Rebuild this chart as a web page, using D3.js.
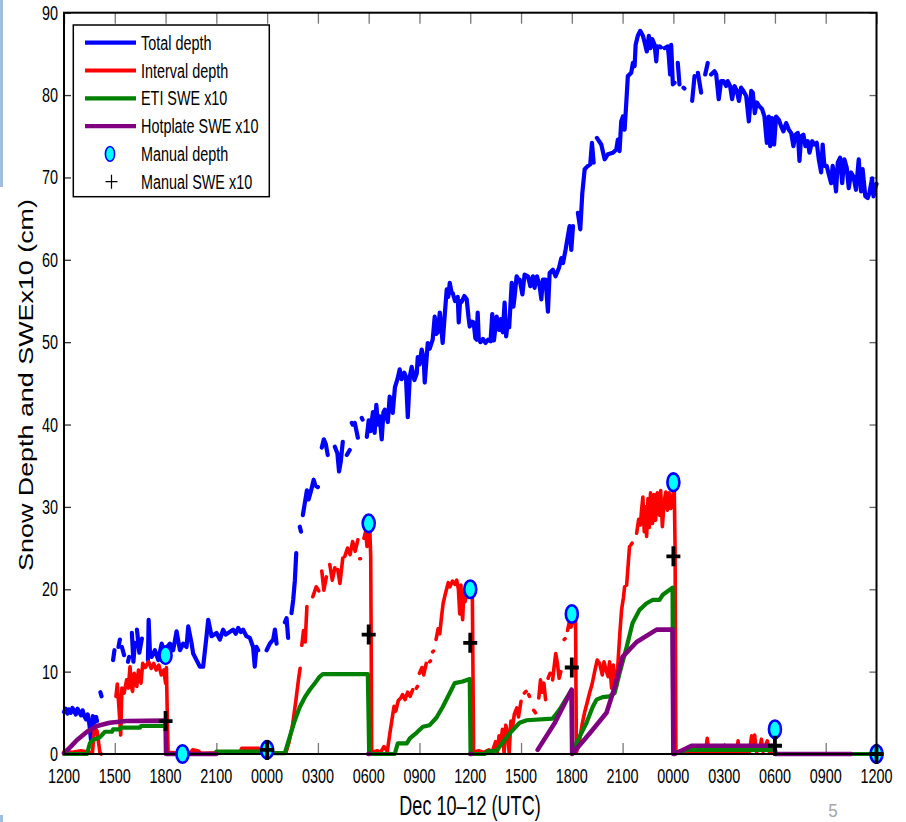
<!DOCTYPE html>
<html>
<head>
<meta charset="utf-8">
<script src="https://cdn.jsdelivr.net/npm/d3@7"></script>
<style>
  html, body { margin: 0; padding: 0; background: #fff; }
  svg { display: block; }
</style>
</head>
<body>
<svg id="chart" width="906" height="822"></svg>
<script>
// Hours since 1200 UTC Dec 10; values in cm (SWE series are x10). null = gap in record.
const hourTicks = [0, 3, 6, 9, 12, 15, 18, 21, 24, 27, 30, 33, 36, 39, 42, 45, 48];
const hourLabels = ["1200","1500","1800","2100","0000","0300","0600","0900","1200",
                    "1500","1800","2100","0000","0300","0600","0900","1200"];
const depthTicks = [0, 10, 20, 30, 40, 50, 60, 70, 80, 90];

const totalDepth = [
  [0,5.1],[0.1,5.5],[0.2,4.9],[0.3,5.4],[0.4,5.0],[0.5,5.6],[0.6,5.2],[0.7,4.8],[0.8,5.5],[0.9,5.1],
  [1.0,4.7],[1.1,5.3],[1.2,4.6],[1.3,4.2],[1.4,4.8],[1.5,3.6],[1.6,1.6],[1.65,2.0],[1.7,4.6],[1.8,3.8],
  [1.9,4.5],[1.95,4.0],
  null,[2.15,7.5],[2.22,7.0],
  null,[2.9,11.4],[2.98,12.6],
  null,[3.22,13.0],[3.3,13.9],
  null,[3.42,13.0],[3.55,12.0],
  null,[3.78,11.2],[3.85,11.8],
  null,[4.01,14.7],[4.1,11.2],[4.19,13.5],
  null,[4.31,15.1],[4.45,12.3],[4.6,14.0],
  null,[4.96,11.4],[5.0,16.3],[5.08,12.2],[5.18,11.8],[5.37,12.6],[5.57,11.4],[5.77,13.4],[5.96,12.2],
  [6.1,13.0],[6.26,13.4],[6.45,12.6],[6.65,14.9],[6.85,12.6],[7.04,13.4],[7.24,13.0],[7.34,15.5],
  [7.54,13.4],[7.63,12.2],[7.83,11.4],[8.03,10.6],[8.22,10.6],[8.42,14.3],[8.52,16.3],[8.72,14.3],
  [9.01,14.7],[9.21,13.9],[9.4,15.1],[9.55,14.5],[9.7,14.7],[9.85,14.9],[9.99,15.1],[10.15,14.6],
  [10.29,15.3],[10.45,14.8],[10.58,15.1],[10.78,14.3],[10.98,14.1],[11.17,13.0],[11.27,10.6],
  [11.37,13.0],[11.47,12.6],
  null,[11.97,12.6],[12.16,13.4],[12.36,13.9],[12.46,15.1],[12.56,13.4],
  null,[13.05,16.0],[13.15,16.5],[13.24,14.1],
  null,[13.44,17.1],[13.54,18.7],[13.64,21.1],[13.72,24.4],
  null,[13.93,27.6],[14.0,27.0],
  null,[14.11,29.0],[14.23,30.5],[14.35,32.0],[14.45,30.9],[14.6,32.0],[14.75,33.3],[14.85,32.6],[15.0,32.4],
  null,[15.23,37.2],[15.35,38.2],[15.47,37.6],[15.58,36.3],
  null,[16.0,37.3],[16.15,36.5],[16.25,34.3],[16.35,35.5],[16.47,37.9],
  null,[16.71,36.3],[16.88,36.9],
  null,[17.0,40.2],[17.05,40.0],
  null,[17.18,40.2],[17.36,38.4],
  null,[17.59,40.8],[17.64,40.6],
  null,[17.89,38.5],[18.0,40.5],[18.1,39.2],[18.25,41.5],[18.35,39.0],[18.45,42.4],[18.55,40.0],
  [18.65,41.0],[18.77,38.2],[18.87,41.5],[18.95,41.8],[19.13,40.3],[19.24,43.4],[19.36,42.2],
  [19.42,41.4],[19.55,44.5],[19.7,45.5],[19.83,46.7],[19.95,45.5],[20.1,46.3],[20.2,45.8],[20.31,40.9],
  [20.43,45.8],[20.54,47.0],[20.7,45.4],[20.84,46.2],[20.9,48.2],[21.0,47.3],[21.13,49.1],[21.25,48.0],
  [21.31,45.1],[21.49,49.9],[21.6,49.2],[21.78,50.3],[21.9,53.1],[22.0,51.0],[22.08,51.2],[22.2,53.6],
  [22.3,51.5],[22.37,49.9],[22.5,53.5],[22.61,56.4],[22.7,55.5],[22.79,57.2],[22.9,56.0],[22.96,56.0],
  [23.1,55.0],[23.26,55.5],[23.32,52.4],[23.4,55.0],[23.49,54.9],[23.65,55.6],[23.79,55.2],[23.9,53.0],
  [23.97,51.9],[24.1,52.5],[24.2,52.4],[24.3,50.5],[24.38,50.3],[24.44,53.6],[24.5,50.5],[24.6,50.0],
  [24.75,50.4],[24.9,49.9],[25.05,50.3],[25.2,50.1],[25.3,53.4],[25.4,50.2],[25.56,53.1],[25.7,51.5],
  [25.8,52.8],[25.92,51.2],[26.03,54.8],[26.12,50.7],[26.21,52.3],[26.3,51.8],[26.45,57.2],[26.55,54.3],
  [26.62,55.5],[26.74,58.0],[26.85,57.6],[26.92,57.6],[27.08,55.8],[27.21,58.2],[27.41,58.0],[27.55,56.8],
  [27.7,58.0],[27.8,56.6],[27.94,58.0],[28.1,56.8],[28.2,55.2],[28.29,57.6],[28.45,57.6],[28.59,53.7],
  [28.69,58.4],[28.88,58.8],[29.04,58.0],[29.24,59.0],[29.38,60.2],[29.48,59.6],[29.63,61.2],[29.77,62.9],
  [29.87,64.1],[29.97,61.2],[30.07,64.1],
  null,[30.36,65.7],[30.5,63.7],[30.62,68.1],[30.76,71.0],[30.95,71.4],[31.09,71.6],[31.19,74.2],[31.29,71.8],
  null,[31.48,74.8],[31.74,74.0],[31.94,72.2],[32.13,72.8],[32.43,73.0],[32.63,73.4],[32.72,74.6],[32.82,73.2],
  [32.92,76.8],[33.02,77.4],[33.12,75.8],[33.22,79.1],[33.31,82.3],[33.51,82.7],[33.61,83.9],[33.71,83.5],
  [33.77,86.1],[33.9,87.2],[34.04,87.8],[34.2,87.2],[34.3,86.4],[34.43,85.3],[34.55,87.2],[34.65,85.7],
  [34.75,86.8],[34.89,86.1],[34.99,84.1],[35.05,85.9],
  null,[35.2,85.9],[35.26,85.8],
  null,[35.48,85.7],[35.67,85.9],[35.73,84.7],[35.81,82.5],[35.87,86.1],[35.97,81.3],[36.07,81.5],
  null,[36.26,83.9],[36.36,81.3],
  null,[36.6,80.9],[36.65,80.8],
  null,[37.11,79.3],[37.25,82.3],
  null,[37.45,82.7],[37.64,80.3],
  null,[37.88,82.5],[38.03,83.9],
  null,[38.23,82.5],[38.43,82.9],[38.53,82.5],[38.68,79.5],[38.82,81.7],[38.96,81.7],[39.12,81.1],[39.21,81.7],
  [39.35,81.1],[39.47,79.5],[39.61,81.1],[39.75,80.5],[39.87,79.3],[40.0,80.9],[40.14,80.5],[40.3,79.9],
  [40.46,76.8],[40.6,80.5],[40.69,80.3],[40.81,77.8],[40.93,79.1],[41.09,78.6],[41.24,78.3],[41.38,77.4],
  [41.52,74.2],[41.64,77.4],[41.72,73.8],[41.83,77.2],[41.95,74.0],[42.07,77.4],[42.23,77.0],[42.37,76.2],
  [42.5,75.6],[42.66,76.6],[42.82,75.8],[42.96,75.4],[43.09,73.8],[43.21,75.2],[43.35,75.4],[43.45,72.0],
  [43.55,75.0],[43.68,75.2],[43.8,73.8],[43.94,74.4],[44.04,73.0],[44.2,74.4],[44.33,74.0],[44.47,74.2],
  [44.59,72.2],[44.73,70.6],[44.82,74.0],[44.92,71.4],[45.06,71.4],[45.18,70.4],[45.32,69.3],[45.41,71.4],
  [45.51,70.1],[45.61,68.3],[45.71,71.8],[45.85,72.4],[45.97,69.3],[46.1,72.2],[46.24,71.2],[46.36,68.7],
  [46.5,70.6],[46.64,70.1],[46.79,68.5],[46.95,72.2],[47.09,68.3],[47.18,71.0],[47.34,67.7],[47.48,67.5],
  [47.58,68.1],[47.74,69.9],[47.82,67.7],[47.94,68.9],[48.0,69.2]
];

const intervalDepth = [
  [0,0.3],[0.5,0.2],[1.0,0.4],[1.5,0.2],[1.68,0.1],[1.8,3.2],[1.95,2.8],[2.12,0.2],[2.2,0.0],
  null,[3.07,7.0],[3.15,8.5],[3.25,5.5],[3.35,2.3],[3.42,8.0],[3.55,7.4],[3.7,9.0],[3.8,8.0],[3.9,10.6],
  [4.0,8.0],[4.05,7.6],[4.15,9.8],[4.3,8.2],[4.4,10.2],[4.55,8.6],[4.65,11.0],[4.8,10.5],[5.0,11.2],
  [5.15,10.4],[5.3,11.0],[5.45,10.2],[5.6,10.8],[5.75,9.6],[5.9,10.2],[6.0,8.6],[6.05,10.5],[6.1,5.0],
  [6.15,0.2],[7.0,0.1],[7.5,0.2],[7.6,0.5],[7.9,0.4],[8.1,0.1],[10.4,0.2],[10.5,0.7],[11.5,0.7],
  [11.6,0.2],[13.1,0.1],[13.3,1.5],[13.5,3.5],[13.7,6.5],[13.85,9.0],[13.95,10.4],
  null,[14.05,13.2],[14.15,15.0],[14.25,13.6],[14.35,17.9],
  null,[14.7,19.1],[14.9,20.3],[15.05,19.8],
  null,[15.23,22.2],[15.35,19.9],[15.5,21.5],
  null,[15.7,23.0],[15.85,21.1],[16.0,22.6],
  null,[16.17,22.4],[16.3,20.7],[16.47,23.8],
  null,[16.59,24.0],[16.75,25.0],[16.9,24.2],[17.05,25.8],[17.2,24.6],[17.36,26.0],
  null,[17.47,23.7],[17.52,23.7],
  null,[17.72,26.2],[17.82,27.0],[17.9,25.2],[18.0,26.6],[18.06,27.5],[18.12,24.0],[18.18,0.2],
  [18.5,0.4],[18.7,0.2],[18.9,0.9],[19.1,0.3],[19.25,2.5],[19.4,4.5],[19.5,5.8],[19.6,5.2],[19.75,6.5],
  [19.9,6.8],[20.0,7.2],[20.15,6.6],[20.3,7.5],[20.45,7.0],[20.6,7.8],
  null,[20.82,8.0],[20.88,8.2],
  null,[21.0,9.8],[21.15,10.5],[21.25,9.6],[21.4,11.0],
  null,[21.6,11.2],[21.65,11.3],
  null,[21.78,12.4],[21.83,12.5],
  null,[21.98,13.9],[22.1,15.2],[22.2,14.6],[22.3,16.6],[22.4,18.3],[22.5,19.2],[22.6,20.0],[22.7,20.8],
  [22.8,20.3],[22.95,21.0],[23.1,20.6],[23.2,21.1],[23.3,20.0],[23.38,17.0],[23.45,20.5],[23.55,16.3],
  [23.62,19.5],[23.7,18.5],[23.8,20.3],[23.95,20.0],[24.05,19.6],[24.12,20.2],[24.2,0.2],
  [24.5,0.4],[24.8,0.2],[25.1,0.5],[25.3,0.3],[25.5,1.5],[25.6,0.2],[25.7,2.2],[25.8,1.2],[25.9,3.0],
  [26.0,0.1],[26.1,3.5],[26.2,2.6],[26.3,0.1],[26.4,4.0],[26.5,3.2],[26.6,4.8],[26.75,5.6],[26.85,4.5],[27.0,6.4],
  null,[27.2,7.4],[27.3,7.6],
  null,[27.45,7.2],[27.5,7.0],
  null,[27.75,5.3],[27.85,5.0],
  null,[28.05,6.8],[28.15,9.0],[28.25,7.5],[28.35,8.6],[28.45,6.6],
  null,[28.6,9.2],[28.72,9.8],
  null,[28.87,9.0],[28.95,10.5],[29.05,12.2],[29.15,11.0],[29.25,9.2],[29.35,10.0],
  null,[29.55,13.9],[29.6,14.0],
  null,[29.75,15.0],[29.85,16.0],[29.95,15.4],[30.1,16.5],[30.22,16.6],[30.27,0.2],
  [30.45,1.5],[30.6,3.5],[30.75,5.0],[30.9,6.2],[31.05,7.4],[31.2,8.5],[31.35,10.0],[31.5,11.4],
  [31.64,11.0],[31.8,9.6],[31.9,11.2],[32.05,10.0],[32.15,9.4],[32.23,11.2],[32.35,8.0],[32.45,10.8],
  [32.55,9.0],[32.64,8.2],[32.75,11.8],[32.85,15.0],[32.94,17.5],[33.05,19.0],[33.12,20.3],
  null,[33.24,20.5],[33.41,25.2],
  null,[33.5,25.4],[33.56,25.6],
  null,[33.83,26.8],[33.95,28.5],[34.05,27.8],[34.12,29.6],[34.2,31.2],[34.28,27.0],[34.35,30.0],
  [34.42,26.4],[34.5,31.0],[34.58,27.5],[34.65,31.7],[34.77,28.0],[34.85,31.5],[34.95,28.4],[35.05,31.7],
  [35.18,29.0],[35.25,32.0],[35.35,27.6],[35.45,30.5],[35.55,31.8],[35.65,29.6],[35.75,31.7],[35.85,29.8],
  [35.95,31.0],[36.05,32.5],[36.1,25.0],[36.15,0.2],
  [37.0,0.1],[37.9,0.2],[38.0,1.9],[38.1,0.2],[39.0,0.3],[39.75,0.2],[39.82,1.6],[39.9,0.2],[40.5,0.3],
  [40.62,2.2],[40.72,0.8],[40.8,2.3],[40.9,0.3],[41.1,0.5],[41.2,1.8],[41.3,0.3],[41.55,1.6],[41.65,0.3],
  [42.0,0.2]
];

const etiSwe = [
  [0,0],[1.36,0],[1.53,1.3],[1.71,1.7],[2.1,2.0],[2.24,2.3],[2.42,2.7],[2.83,2.7],[2.9,3.0],[3.3,3.0],
  [3.35,3.2],[4.49,3.2],[4.55,3.4],[6.0,3.4],
  null,[9.0,0.3],[12.0,0.3],[12.3,0.1],[13.05,0.1],[13.34,2.1],[13.64,4.1],[13.93,5.7],[14.23,6.9],
  [14.52,7.8],[14.82,8.6],[15.11,9.4],[15.29,9.7],[17.95,9.7],[18.03,0],[19.54,0],[19.72,1.3],[20.25,1.3],
  [20.43,1.9],[20.84,2.6],[21.2,3.3],[21.6,3.5],[22.0,4.4],[22.37,5.7],[22.79,7.4],[23.08,8.6],
  [23.55,8.8],[23.97,9.1],[24.02,0],[24.85,0],[25.0,0.3],[25.56,0.4],[25.74,0.9],[26.33,2.5],
  [26.92,3.8],[27.33,4.1],[28.87,4.3],[29.28,5.4],[29.69,6.8],[29.99,7.8],[30.02,0.2],[30.46,2.1],
  [30.87,3.8],[31.23,5.7],[31.46,6.6],[31.82,6.9],[32.23,7.0],[32.53,7.4],[32.82,9.8],[33.24,13.0],
  [33.59,15.9],[34.0,17.5],[34.42,18.3],[34.77,18.7],[35.18,18.7],[35.36,19.3],[35.95,20.2],[36.0,0.1],
  [36.8,0.5],[42.0,0.5],
  null,[46.5,0],[48,0]
];

const hotplateSwe = [
  [0,0.1],[0.4,0.9],[0.77,1.7],[1.36,2.7],[1.95,3.4],[2.7,3.8],[3.7,4.0],[6.0,4.05],[6.03,0],[9.0,0],
  null,[17.98,0],[18.06,0],
  null,[24.0,0],[24.08,0],
  null,[27.98,0.5],[29.0,3.8],[29.99,7.8],[30.02,0],[31.05,2.5],[32.05,5.0],[32.53,8.1],[33.0,11.8],
  [33.83,13.6],[35.01,15.1],[35.95,15.1],[36.0,0],[36.07,0],[37.07,1.0],[41.97,1.0],[42.03,0],[46.5,0]
];

const manualDepth = [[6,12],[7,0],[12,0.5],[18,28],[24,20],[30,17],[36,33],[42,3],[48,0]];
const manualSwe = [[6,4],[12,0.5],[18,14.5],[24,13.5],[30,10.5],[36,24],[42,1],[48,0]];

const seriesNames = ["Total depth","Interval depth","ETI SWE x10","Hotplate SWE x10","Manual depth","Manual SWE x10"];

// ---------------------------------------------------------------------------
const svg = d3.select("#chart");
const FONT = "'Liberation Sans', Arial, Helvetica, sans-serif";

const x = d3.scaleLinear().domain([0, 48]).range([64, 876.5]);
const y = d3.scaleLinear().domain([0, 90]).range([754, 12.7]);

svg.append("rect").attr("width", 906).attr("height", 822).attr("fill", "#fff");

// slide edge decoration
svg.append("rect").attr("x", 0).attr("y", 0).attr("width", 3).attr("height", 187).attr("fill", "#a3bde0");
svg.append("rect").attr("x", 0).attr("y", 815).attr("width", 3).attr("height", 7).attr("fill", "#a3bde0");

// tick marks on all four sides, pointing inward
function styleAxis(g, color) {
  g.select(".domain").remove();
  g.selectAll(".tick line").attr("stroke", color).attr("stroke-width", 1.3);
  g.selectAll(".tick text").remove();
}
svg.append("g").attr("transform", `translate(0,${y(0)})`)
  .call(d3.axisBottom(x).tickValues(hourTicks).tickSize(-11).tickFormat(""))
  .call(g => styleAxis(g, "#777"));
svg.append("g").attr("transform", `translate(0,${y(90)})`)
  .call(d3.axisTop(x).tickValues(hourTicks).tickSize(-11).tickFormat(""))
  .call(g => styleAxis(g, "#777"));
svg.append("g").attr("transform", `translate(${x(0)},0)`)
  .call(d3.axisLeft(y).tickValues(depthTicks).tickSize(-7).tickFormat(""))
  .call(g => styleAxis(g, "#333"));
svg.append("g").attr("transform", `translate(${x(48)},0)`)
  .call(d3.axisRight(y).tickValues(depthTicks).tickSize(-7).tickFormat(""))
  .call(g => styleAxis(g, "#666"));

// series lines
const line = d3.line()
  .defined(d => d !== null)
  .x(d => x(d[0]))
  .y(d => y(d[1]));

const lineSpecs = [
  { data: totalDepth,    color: "#0000ff", width: 4.2 },
  { data: intervalDepth, color: "#ff0000", width: 3.6 },
  { data: etiSwe,        color: "#008000", width: 4.2 },
  { data: hotplateSwe,   color: "#800080", width: 4.6 }
];
lineSpecs.forEach(s => {
  svg.append("path")
    .datum(s.data)
    .attr("d", line)
    .attr("fill", "none")
    .attr("stroke", s.color)
    .attr("stroke-width", s.width)
    .attr("stroke-linejoin", "round")
    .attr("stroke-linecap", "round");
});

// frame
svg.append("rect")
  .attr("x", x(0)).attr("y", y(90))
  .attr("width", x(48) - x(0)).attr("height", y(0) - y(90))
  .attr("fill", "none").attr("stroke", "#000").attr("stroke-width", 2);

// manual depth observations
svg.append("g").selectAll("ellipse").data(manualDepth).join("ellipse")
  .attr("cx", d => x(d[0])).attr("cy", d => y(d[1]))
  .attr("rx", 6).attr("ry", 8.8)
  .attr("fill", "#00ffff").attr("stroke", "#0000ff").attr("stroke-width", 2.6);

// manual SWE observations
svg.append("g").selectAll("path").data(manualSwe).join("path")
  .attr("d", d => {
    const cx = x(d[0]), cy = y(d[1]);
    return `M${cx - 7},${cy}H${cx + 7}M${cx},${cy - 10}V${cy + 10}`;
  })
  .attr("fill", "none").attr("stroke", "#000").attr("stroke-width", 3.8);

// axis tick labels
const condensed = "scale(0.8,1.12)";
svg.append("g").selectAll("text").data(hourTicks).join("text")
  .attr("transform", (d) => `translate(${x(d)},783) ${condensed}`)
  .attr("text-anchor", "middle")
  .attr("font-family", FONT).attr("font-size", 18).attr("fill", "#000")
  .text((d, i) => hourLabels[i]);

svg.append("g").selectAll("text").data(depthTicks).join("text")
  .attr("transform", d => `translate(58,${y(d) + 7}) ${condensed}`)
  .attr("text-anchor", "end")
  .attr("font-family", FONT).attr("font-size", 18).attr("fill", "#000")
  .text(d => d);

// axis titles
svg.append("text")
  .attr("transform", "translate(470,815) scale(0.82,1.25)")
  .attr("text-anchor", "middle")
  .attr("font-family", FONT).attr("font-size", 22).attr("fill", "#000")
  .text("Dec 10\u201312 (UTC)");

svg.append("text")
  .attr("transform", "translate(33,385) rotate(-90) scale(1.28,1)")
  .attr("text-anchor", "middle")
  .attr("font-family", FONT).attr("font-size", 21).attr("fill", "#000")
  .text("Snow Depth and SWEx10 (cm)");

// slide page number
svg.append("text")
  .attr("transform", "translate(833,817) scale(1,1.1)")
  .attr("text-anchor", "middle")
  .attr("font-family", FONT).attr("font-size", 17).attr("fill", "#a6a6a6")
  .text("5");

// legend
const legend = svg.append("g");
legend.append("rect")
  .attr("x", 73.3).attr("y", 25).attr("width", 196).attr("height", 171.7)
  .attr("fill", "#fff").attr("stroke", "#000").attr("stroke-width", 1.5);

const rowY = i => 42.7 + i * 27.8;
lineSpecs.forEach((s, i) => {
  legend.append("line")
    .attr("x1", 85).attr("x2", 136).attr("y1", rowY(i)).attr("y2", rowY(i))
    .attr("stroke", s.color).attr("stroke-width", 4.2);
});
legend.append("ellipse")
  .attr("cx", 110).attr("cy", rowY(4)).attr("rx", 4.6).attr("ry", 7.4)
  .attr("fill", "#00ffff").attr("stroke", "#0000ff").attr("stroke-width", 1.6);
legend.append("path")
  .attr("d", `M${105.5},${rowY(5)}H${117.5}M${111.5},${rowY(5) - 7}V${rowY(5) + 7}`)
  .attr("stroke", "#000").attr("stroke-width", 1.2).attr("fill", "none");

legend.selectAll("text.label").data(seriesNames).join("text")
  .attr("class", "label")
  .attr("transform", (d, i) => `translate(141,${rowY(i) + 7}) ${condensed}`)
  .attr("font-family", FONT).attr("font-size", 18).attr("fill", "#000")
  .text(d => d);
</script>
</body>
</html>
